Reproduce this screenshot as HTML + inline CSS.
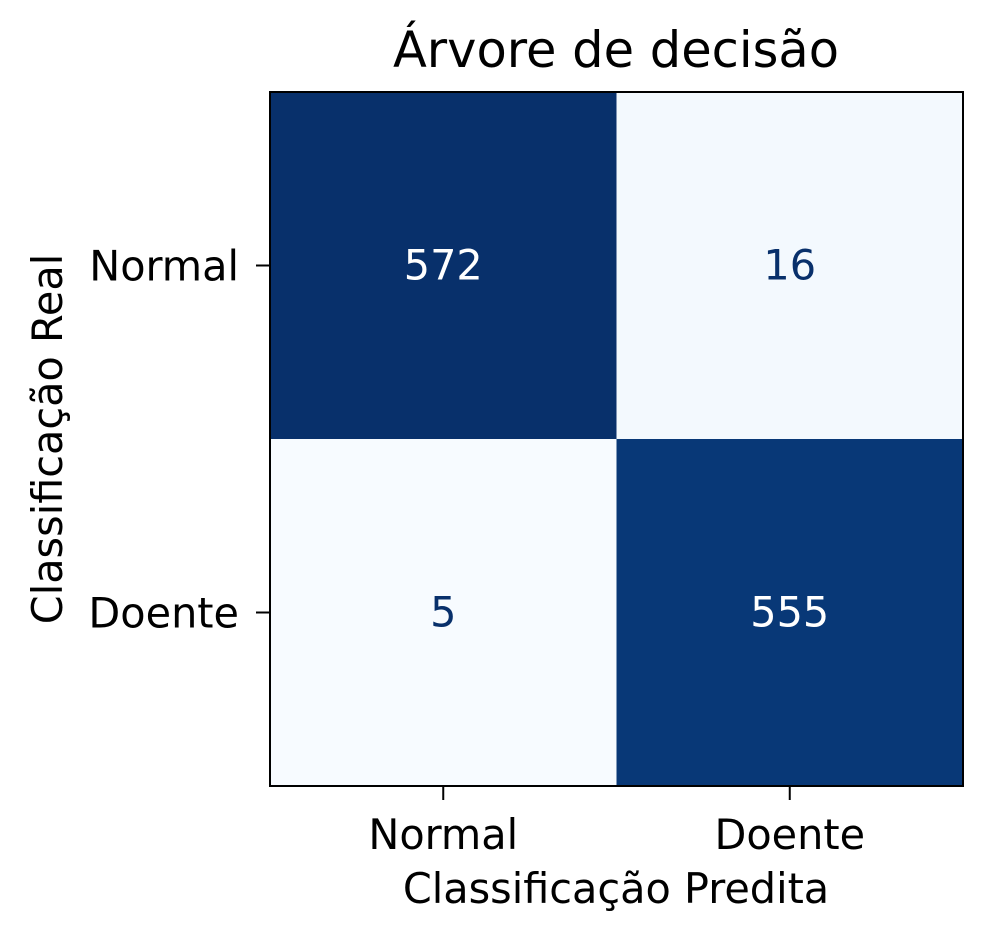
<!DOCTYPE html>
<html><head><meta charset="utf-8">
<style>
html,body{margin:0;padding:0;background:#fff;}
svg{display:block;font-family:"DejaVu Sans","Liberation Sans",sans-serif;}
</style></head>
<body>
<svg id="chart" width="992" height="946" viewBox="0 0 992 946">
<text x="616" y="67" text-anchor="middle" font-size="49.5">Árvore de decisão</text>
<g id="cells"></g>
<rect x="270" y="92" width="693" height="694" fill="none" stroke="#000" stroke-width="2"/>
<g id="axes"></g>
<text x="616" y="903" text-anchor="middle" font-size="41.4">Classificação Predita</text>
<text transform="translate(62,439) rotate(-90)" text-anchor="middle" font-size="41.4">Classificação Real</text>
</svg>
<script>
const rowLabels = ["Normal", "Doente"];
const colLabels = ["Normal", "Doente"];
const values = [[572, 16], [5, 555]];

const NS = "http://www.w3.org/2000/svg";
const plotLeft = 270, plotTop = 92, plotW = 693, plotH = 694;
const cw = plotW / colLabels.length, ch = plotH / rowLabels.length;
const xCenter = j => plotLeft + cw * (j + 0.5);
const yCenter = i => plotTop + ch * (i + 0.5);
const flat = values.flat();
const vmin = Math.min(...flat), vmax = Math.max(...flat);
const stops = ["#f7fbff","#deebf7","#c6dbef","#9ecae1","#6baed6","#4292c6","#2171b5","#08519c","#08306b"];
function hex(c){return [1,3,5].map(k=>parseInt(c.substr(k,2),16));}
function blues(t){
  t = Math.max(0, Math.min(1, t));
  const p = t * (stops.length - 1), k = Math.min(Math.floor(p), stops.length - 2), f = p - k;
  const a = hex(stops[k]), b = hex(stops[k+1]);
  return "rgb(" + a.map((v,n)=>Math.round(v + (b[n]-v)*f)).join(",") + ")";
}
const cells = document.getElementById("cells");
const axes = document.getElementById("axes");
values.forEach((row, i) => row.forEach((v, j) => {
  const t = (v - vmin) / (vmax - vmin);
  const r = document.createElementNS(NS, "rect");
  r.setAttribute("x", plotLeft + cw * j);
  r.setAttribute("y", plotTop + ch * i);
  r.setAttribute("width", cw + 0.5);
  r.setAttribute("height", ch + 0.5);
  r.setAttribute("fill", blues(t));
  
  
  cells.appendChild(r);
  const tx = document.createElementNS(NS, "text");
  tx.setAttribute("x", xCenter(j));
  tx.setAttribute("y", yCenter(i) + 14);
  tx.setAttribute("text-anchor", "middle");
  tx.setAttribute("font-size", "41.4");
  tx.setAttribute("fill", v > (vmax + vmin) / 2 ? "#ffffff" : "#08306b");
  tx.textContent = v;
  
  
  cells.appendChild(tx);
}));
rowLabels.forEach((lab, i) => {
  const y = yCenter(i);
  const l = document.createElementNS(NS, "line");
  l.setAttribute("x1", 256); l.setAttribute("x2", 270);
  l.setAttribute("y1", y); l.setAttribute("y2", y);
  l.setAttribute("stroke", "#000"); l.setAttribute("stroke-width", "2");
  
  
  axes.appendChild(l);
  const t = document.createElementNS(NS, "text");
  t.setAttribute("x", 239); t.setAttribute("y", y + 15);
  t.setAttribute("text-anchor", "end"); t.setAttribute("font-size", "41.4");
  t.textContent = lab;
  
  
  axes.appendChild(t);
});
colLabels.forEach((lab, j) => {
  const x = xCenter(j);
  const l = document.createElementNS(NS, "line");
  l.setAttribute("x1", x); l.setAttribute("x2", x);
  l.setAttribute("y1", 786); l.setAttribute("y2", 800);
  l.setAttribute("stroke", "#000"); l.setAttribute("stroke-width", "2");
  
  
  axes.appendChild(l);
  const t = document.createElementNS(NS, "text");
  t.setAttribute("x", x); t.setAttribute("y", 849);
  t.setAttribute("text-anchor", "middle"); t.setAttribute("font-size", "41.4");
  t.textContent = lab;
  
  
  axes.appendChild(t);
});
</script>
</body></html>
